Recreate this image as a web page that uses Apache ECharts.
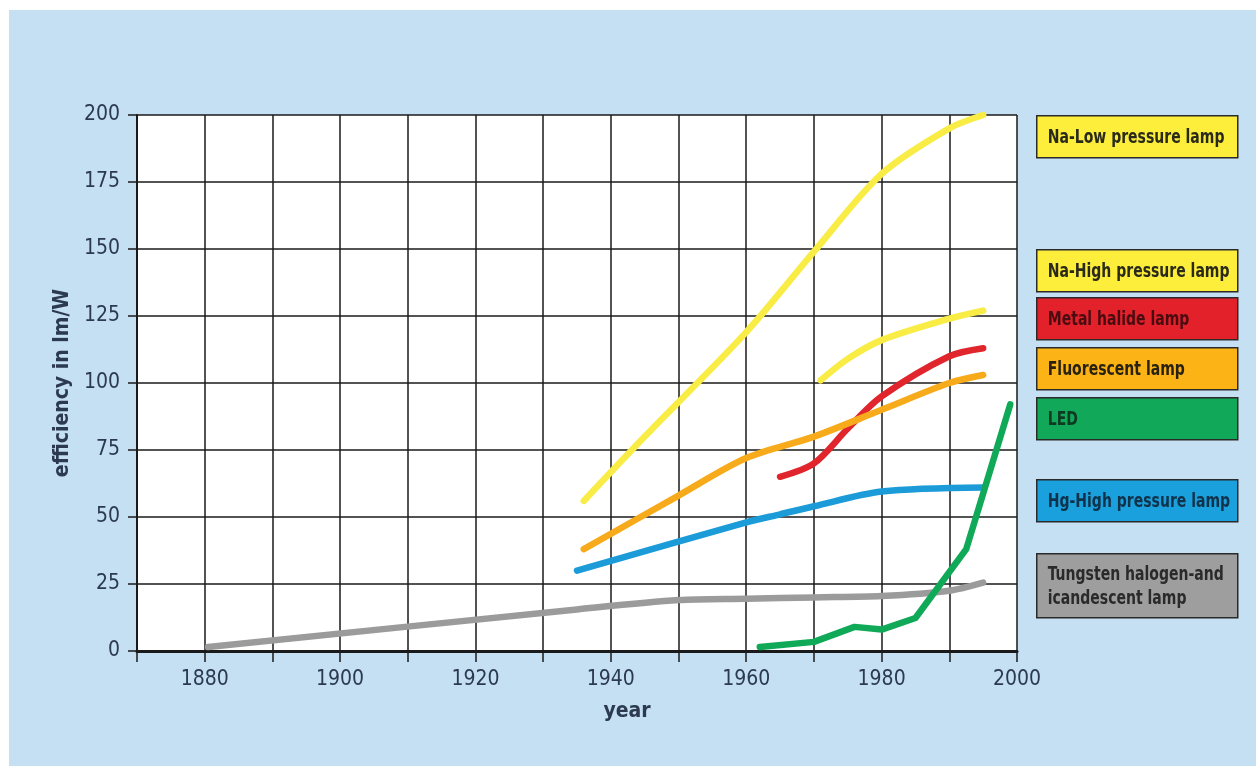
<!DOCTYPE html>
<html>
<head>
<meta charset="utf-8">
<title>Luminous efficacy of lamp types</title>
<script src="https://cdn.jsdelivr.net/npm/echarts@6/dist/echarts.min.js"></script>
<style>
  html, body { margin: 0; padding: 0; background: #ffffff; }
  #panel { position: absolute; left: 9px; top: 10px; width: 1247px; height: 756px; background: #c5dff3; }
  #chart { position: absolute; left: 0; top: 0; width: 1256px; height: 766px; }
</style>
</head>
<body>
<div id="panel"></div>
<div id="chart"></div>
<script>
// Efficiency (lm/W) by year for each lamp type: [year, value]
const naLowPressure = [[1936, 56], [1945, 80], [1960, 119], [1970, 149], [1980, 178], [1990, 195], [1995, 200]];
const naHighPressure = [[1971, 101], [1975, 109], [1980, 116], [1990, 124], [1995, 127]];
const metalHalide = [[1965, 65], [1970, 70], [1975, 83], [1980, 95], [1990, 110], [1995, 113]];
const fluorescent = [[1936, 38], [1950, 58], [1960, 72], [1970, 80], [1980, 90], [1990, 100], [1995, 103]];
const led = [[1962, 1.5], [1970, 3.4], [1976, 9], [1980, 8], [1985, 12.3], [1992.5, 38], [1999, 92]];
const hgHighPressure = [[1935, 30], [1960, 48], [1965, 51], [1970, 54], [1980, 59.5], [1995, 61]];
const tungsten = [[1880.5, 1.5], [1935, 15.5], [1950, 19], [1960, 19.5], [1970, 20], [1980, 20.5], [1990, 22.5], [1995, 25.5]];

const yTicks = [0, 25, 50, 75, 100, 125, 150, 175, 200];
const xLabelYears = [1880, 1900, 1920, 1940, 1960, 1980, 2000];

// Series names, in legend order (top to bottom)
const lampNames = [
  'Na-Low pressure lamp',
  'Na-High pressure lamp',
  'Metal halide lamp',
  'Fluorescent lamp',
  'LED',
  'Hg-High pressure lamp',
  'Tungsten halogen-and\nicandescent lamp'
];
const lineColors = ['#f8ec45', '#f8ec45', '#e1252c', '#f7aa1a', '#10a957', '#1b9cd8', '#9b9b9b'];
const boxColors = ['#fdee3c', '#fdee3c', '#e3212b', '#fbb315', '#12a85a', '#1aa0dc', '#9e9e9e'];
const boxText = ['#2a2a1a', '#2a2a1a', '#4a0c10', '#2a2210', '#0f3a22', '#10324a', '#2a2a2a'];
const seriesData = [naLowPressure, naHighPressure, metalHalide, fluorescent, led, hgHighPressure, tungsten];

const FONT = '"DejaVu Sans Condensed", "Liberation Sans", sans-serif';
const TXT = '#2b3a4e';

// Legend boxes on the right
const boxTops = [115, 249, 297, 347, 397, 479, 553];
const boxHeights = [42, 42, 42, 42, 42, 42, 64];
const legendGraphics = lampNames.map((name, i) => ({
  type: 'group',
  left: 1036,
  top: boxTops[i],
  children: [
    {
      type: 'rect',
      shape: { x: 0, y: 0, width: 201, height: boxHeights[i] },
      style: { fill: boxColors[i], stroke: '#2a2a2a', lineWidth: 1.5 }
    },
    {
      type: 'text',
      x: 11,
      y: boxHeights[i] / 2 + 1,
      scaleX: 0.82,
      style: {
        text: name,
        fill: boxText[i],
        font: 'bold 19px ' + FONT,
        textVerticalAlign: 'middle',
        lineHeight: 24
      }
    }
  ]
}));

// Draw order: grey first, LED last so it sits on top
const drawOrder = [6, 5, 2, 3, 1, 0, 4];
const series = drawOrder.map(i => ({
  name: lampNames[i],
  type: 'line',
  data: seriesData[i],
  smooth: i === 4 ? false : 0.3,
  symbol: 'none',
  lineStyle: { color: lineColors[i], width: 6.5, cap: 'round', join: 'round' },
  z: 3
}));

const chart = echarts.init(document.getElementById('chart'), null, { renderer: 'canvas' });
chart.setOption({
  backgroundColor: 'transparent',
  animation: false,
  grid: { left: 137, top: 115, right: 239, bottom: 115, backgroundColor: '#ffffff', show: true, borderWidth: 0 },
  xAxis: {
    type: 'value',
    min: 1870,
    max: 2000,
    interval: 10,
    name: 'year',
    nameLocation: 'middle',
    nameGap: 50,
    nameTextStyle: { fontFamily: FONT, fontSize: 21, fontWeight: 'bold', color: TXT, padding: [0, 0, 0, 100] },
    axisLine: { show: true, onZero: false, lineStyle: { color: '#1a1a1a', width: 3 } },
    axisTick: { show: true, inside: false, length: 11, lineStyle: { color: '#1a1a1a', width: 1.5 } },
    axisLabel: {
      margin: 18,
      fontFamily: FONT,
      fontSize: 21,
      color: TXT,
      formatter: v => (xLabelYears.includes(v) ? String(v) : '')
    },
    splitLine: { show: true, lineStyle: { color: '#1a1a1a', width: 1.5 } }
  },
  yAxis: {
    type: 'value',
    min: 0,
    max: 200,
    interval: 25,
    name: 'efficiency in lm/W',
    nameLocation: 'middle',
    nameGap: 58,
    nameTextStyle: { fontFamily: FONT, fontSize: 21, fontWeight: 'bold', color: TXT },
    axisLine: { show: true, lineStyle: { color: '#1a1a1a', width: 2 } },
    axisTick: { show: true, inside: false, length: 9, lineStyle: { color: '#1a1a1a', width: 1.5 } },
    axisLabel: {
      margin: 17,
      fontFamily: FONT,
      fontSize: 21,
      color: TXT,
      formatter: v => (yTicks.includes(v) ? String(v) : '')
    },
    splitLine: { show: true, lineStyle: { color: '#1a1a1a', width: 1.5 } }
  },
  graphic: legendGraphics,
  series: series
});
</script>
</body>
</html>
